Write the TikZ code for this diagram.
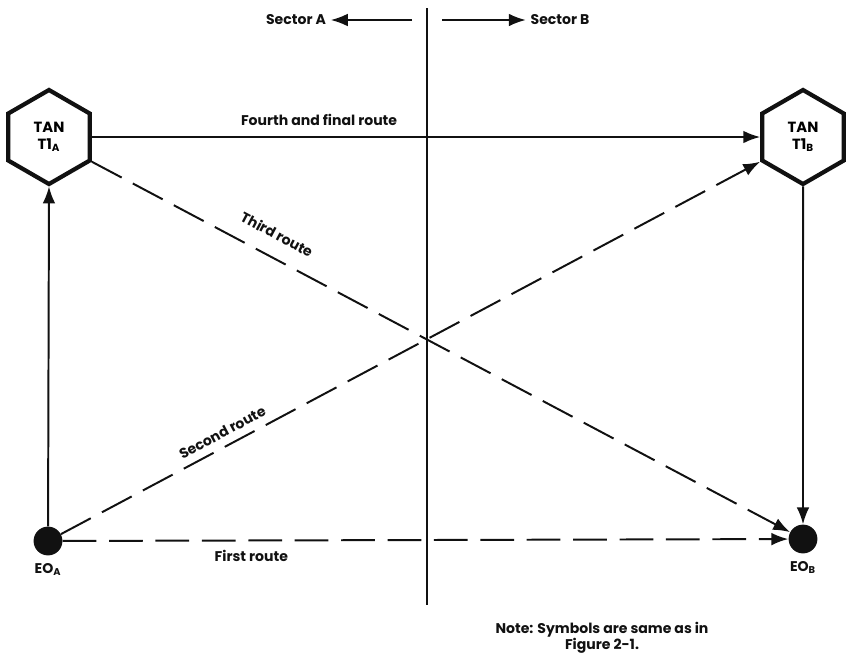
\documentclass[tikz,border=0pt]{standalone}
\usepackage{fontspec}
\setmainfont{Poppins}
\usepackage{tikz}
\usetikzlibrary{shapes.geometric, arrows.meta, positioning}
\definecolor{inkblack}{HTML}{111111}
\tikzset{
  tanhex/.style={
    regular polygon, regular polygon sides=6, shape border rotate=30,
    draw=inkblack, line width=3pt, minimum size=2.35cm, inner sep=0pt,
    align=center, font=\fontsize{10.5}{11.5}\selectfont\bfseries
  },
  eodot/.style={
    circle, fill=inkblack, minimum size=0.72cm, inner sep=0pt
  },
  lbl/.style={font=\fontsize{10}{11}\selectfont\bfseries, text=inkblack},
  route/.style={-{Latex[length=12pt,width=9pt]}, line width=1.4pt, draw=inkblack},
  droute/.style={route, dash pattern=on 24pt off 9pt}
}

\begin{document}
\begin{tikzpicture}[x=0.025cm, y=-0.025cm]
    \useasboundingbox (0,0) rectangle (846,660);

    % Sector divider
    \coordinate (divtop) at (427,8);
    \coordinate (divbot) at (427,605);
    \draw[line width=1.4pt, inkblack] (divtop) -- (divbot);
    \node[lbl] (secA) at (296,20) {Sector A};
    \node[lbl] (secB) at (560,20) {Sector B};
    \coordinate (axL) at (412,20);
    \coordinate (axR) at (442,20);
    \draw[route, line width=1.1pt] (axL) -- (secA.east);
    \draw[route, line width=1.1pt] (axR) -- (secB.west);

    % TAN nodes
    \node[tanhex] (hexA) at (49,137) {TAN\\T1\textsubscript{A}};
    \node[tanhex] (hexB) at (803,137) {TAN\\T1\textsubscript{B}};

    % EO nodes
    \node[eodot] (eoA) at (48,541) {};
    \node[eodot] (eoB) at (803,539) {};
    \node[lbl, below=2pt of eoA] (eoAlbl) {EO\textsubscript{A}};
    \node[lbl, below=2pt of eoB] (eoBlbl) {EO\textsubscript{B}};

    % Routes
    \draw[route] (eoA) -- (hexA.-90);
    \draw[route] (hexB.-90) -- (eoB);
    \draw[route] (hexA.0) -- node[lbl, above=4pt, pos=0.34] {Fourth and final route} (hexB.180);
    \draw[droute] (eoA) -- node[lbl, below=3pt, pos=0.26] {First route} (eoB);
    \draw[droute] (eoA) -- node[lbl, sloped, above=2pt, pos=0.24] {Second route} (hexB.-150);
    \draw[droute] (hexA.-30) -- node[lbl, sloped, above=8pt, pos=0.25] {Third route} (eoB);

    % Note
    \node[lbl, align=center] (note) at (602,638)
      {Note: Symbols are same as in\\Figure 2-1.};
\end{tikzpicture}
\end{document}
